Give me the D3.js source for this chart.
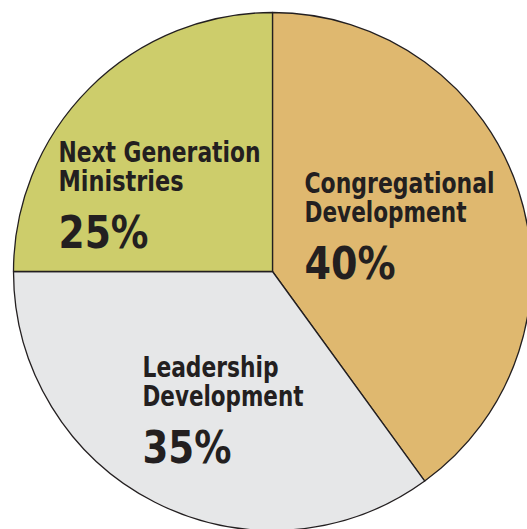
<!DOCTYPE html>
<html>
<head>
<meta charset="utf-8">
<script src="https://cdn.jsdelivr.net/npm/d3@7"></script>
<style>
  html, body { margin: 0; padding: 0; background: #fff; }
  svg { display: block; }
  .lbl { font-family: "DejaVu Sans Condensed", "DejaVu Sans", sans-serif; font-stretch: condensed; font-weight: bold; fill: #231f20; }
</style>
</head>
<body>
<div id="chart"></div>
<script>
// data
const categories = ["Congregational Development", "Leadership Development", "Next Generation Ministries"];
const labelLines = [["Congregational", "Development"], ["Leadership", "Development"], ["Next Generation", "Ministries"]];
const values = [40, 35, 25];
const colors = ["#dfb86f", "#e6e7e8", "#cdcd6b"];

const width = 527, height = 529;
const cx = 272.5, cy = 271.5, radius = 259;

// text anchors (offset from centre) and widths of each text line
const labelPos = [[32, -79], [-130, 105], [-214, -110]];
const lineWidths = [[190, 162], [136, 161], [202, 125]];
const pctWidth = [91, 89, 90];

const svg = d3.select("#chart").append("svg")
    .attr("width", width)
    .attr("height", height);

const g = svg.append("g").attr("transform", `translate(${cx},${cy})`);

const pie = d3.pie().sort(null).value(d => d)(values);
const arc = d3.arc().innerRadius(0).outerRadius(radius);

g.selectAll("path.slice")
    .data(pie)
    .enter()
    .append("path")
    .attr("class", "slice")
    .attr("d", arc)
    .style("fill", (d, i) => colors[i])
    .style("stroke", "#231f20")
    .style("stroke-width", 1.3)
    .style("stroke-linejoin", "round");

// labels
pie.forEach((d, i) => {
    const [lx, ly] = labelPos[i];
    const t = g.append("g").attr("transform", `translate(${lx},${ly})`);
    labelLines[i].forEach((line, j) => {
        t.append("text")
            .attr("class", "lbl")
            .attr("x", 0)
            .attr("y", j * 29.5)
            .attr("textLength", lineWidths[i][j])
            .attr("lengthAdjust", "spacingAndGlyphs")
            .style("font-size", "29px")
            .text(line);
    });
    t.append("text")
        .attr("class", "lbl")
        .attr("x", 0)
        .attr("y", 86)
        .attr("textLength", pctWidth[i])
        .attr("lengthAdjust", "spacingAndGlyphs")
        .style("font-size", "45px")
        .text(values[i] + "%");
});
</script>
</body>
</html>
